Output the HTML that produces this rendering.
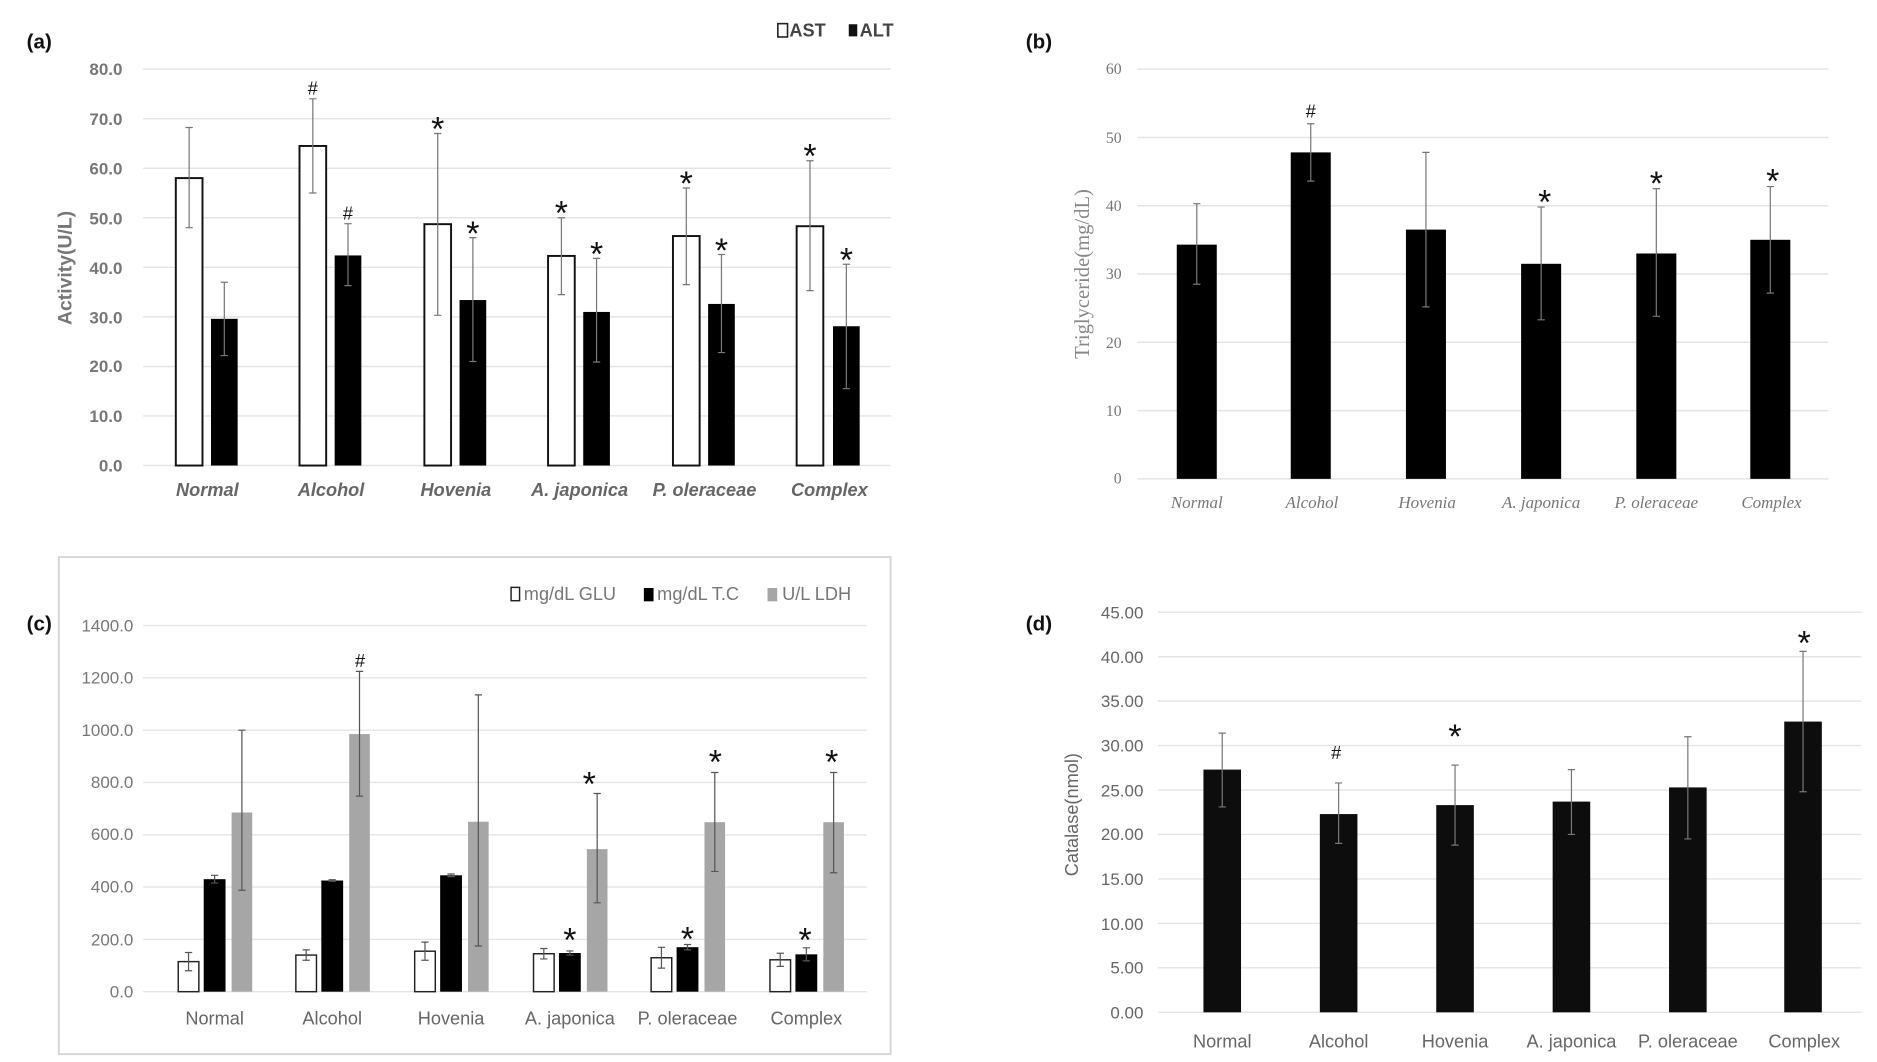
<!DOCTYPE html>
<html><head><meta charset="utf-8"><style>
html,body{margin:0;padding:0;background:#fff;}
svg{display:block}
</style></head><body>
<svg width="1877" height="1062" viewBox="0 0 1548 876" preserveAspectRatio="none" xmlns="http://www.w3.org/2000/svg">
<rect width="1548" height="876" fill="#fff"/>

<!-- ===== (a) ===== -->
<text x="22" y="40" font-family="Liberation Sans, sans-serif" font-weight="bold" font-size="17" fill="#111">(a)</text>
<g stroke="#e4e4e4" stroke-width="1.2">
<line x1="118" x2="735" y1="57" y2="57"/><line x1="118" x2="735" y1="97.9" y2="97.9"/><line x1="118" x2="735" y1="138.8" y2="138.8"/><line x1="118" x2="735" y1="179.6" y2="179.6"/><line x1="118" x2="735" y1="220.5" y2="220.5"/><line x1="118" x2="735" y1="261.4" y2="261.4"/><line x1="118" x2="735" y1="302.3" y2="302.3"/><line x1="118" x2="735" y1="343.1" y2="343.1"/><line x1="118" x2="735" y1="384" y2="384"/>
</g>
<g font-family="Liberation Sans Narrow, Liberation Sans, sans-serif" font-weight="bold" font-size="14" fill="#777" text-anchor="end">
<text x="101" y="62">80.0</text><text x="101" y="103">70.0</text><text x="101" y="144">60.0</text><text x="101" y="185">50.0</text><text x="101" y="226">40.0</text><text x="101" y="267">30.0</text><text x="101" y="307">20.0</text><text x="101" y="348">10.0</text><text x="101" y="389">0.0</text>
</g>
<text transform="translate(59,221) rotate(-90)" font-family="Liberation Sans, sans-serif" font-weight="bold" font-size="16" fill="#777" text-anchor="middle">Activity(U/L)</text>
<g fill="#fff" stroke="#111" stroke-width="1.6">
<rect x="145" y="146.9" width="22" height="237.1"/><rect x="247" y="120.4" width="22" height="263.6"/><rect x="350" y="184.9" width="22" height="199.1"/><rect x="452" y="211.1" width="22" height="172.9"/><rect x="555" y="194.7" width="22" height="189.3"/><rect x="657" y="186.6" width="22" height="197.4"/>
</g>
<g fill="#000">
<rect x="174" y="263" width="22" height="121"/><rect x="276" y="210.7" width="22" height="173.3"/><rect x="379" y="247.5" width="22" height="136.5"/><rect x="481" y="257.3" width="22" height="126.7"/><rect x="584" y="250.7" width="22" height="133.3"/><rect x="687" y="269.1" width="22" height="114.9"/>
</g>
<g stroke="#777" stroke-width="1" fill="none">
<path d="M156 105.2V187.8M153 105.2h6M153 187.8h6"/>
<path d="M258 81.5V159.2M255 81.5h6M255 159.2h6"/>
<path d="M361 110.1V260.1M358 110.1h6M358 260.1h6"/>
<path d="M463 179.6V243M460 179.6h6M460 243h6"/>
<path d="M566 155.1V234.8M563 155.1h6M563 234.8h6"/>
<path d="M668 132.6V239.7M665 132.6h6M665 239.7h6"/>
<path d="M185 232.8V293.3M182 232.8h6M182 293.3h6"/>
<path d="M287 184.5V235.6M284 184.5h6M284 235.6h6"/>
<path d="M390 196V298.2M387 196h6M387 298.2h6"/>
<path d="M492 213.1V298.6M489 213.1h6M489 298.6h6"/>
<path d="M595 209.9V290.8M592 209.9h6M592 290.8h6"/>
<path d="M698 218V320.6M695 218h6M695 320.6h6"/>
</g>
<g font-family="Liberation Sans, sans-serif" font-size="28" fill="#111" text-anchor="middle">
<text x="258" y="78" font-size="15">#</text><text x="287" y="181" font-size="15">#</text>
<text x="361" y="116">*</text><text x="390" y="202">*</text>
<text x="463" y="185">*</text><text x="492" y="219">*</text>
<text x="566" y="161">*</text><text x="595" y="216">*</text>
<text x="668" y="138">*</text><text x="698" y="224">*</text>
</g>
<g font-family="Liberation Sans, sans-serif" font-weight="bold" font-style="italic" font-size="15" fill="#666" text-anchor="middle">
<text x="171" y="409">Normal</text><text x="273" y="409">Alcohol</text><text x="376" y="409">Hovenia</text><text x="478" y="409">A. japonica</text><text x="581" y="409">P. oleraceae</text><text x="684" y="409">Complex</text>
</g>
<rect x="641.5" y="19.5" width="8" height="11" fill="#fff" stroke="#222" stroke-width="1.3"/>
<rect x="700" y="20" width="7" height="10" fill="#111"/>
<g font-family="Liberation Sans, sans-serif" font-weight="bold" font-size="15" fill="#444">
<text x="651" y="30">AST</text><text x="709" y="30">ALT</text>
</g>

<!-- ===== (b) ===== -->
<text x="846" y="40" font-family="Liberation Sans, sans-serif" font-weight="bold" font-size="17" fill="#111">(b)</text>
<g stroke="#e4e4e4" stroke-width="1.2">
<line x1="938" x2="1508" y1="57" y2="57"/><line x1="938" x2="1508" y1="113.4" y2="113.4"/><line x1="938" x2="1508" y1="169.7" y2="169.7"/><line x1="938" x2="1508" y1="226" y2="226"/><line x1="938" x2="1508" y1="282.3" y2="282.3"/><line x1="938" x2="1508" y1="338.7" y2="338.7"/><line x1="938" x2="1508" y1="395" y2="395"/>
</g>
<g font-family="Liberation Serif, serif" font-size="13" fill="#777" text-anchor="end">
<text x="925" y="61">60</text><text x="925" y="118">50</text><text x="925" y="174">40</text><text x="925" y="230">30</text><text x="925" y="287">20</text><text x="925" y="343">10</text><text x="925" y="399">0</text>
</g>
<text transform="translate(898,226) rotate(-90)" font-family="Liberation Serif, serif" font-size="17" fill="#888" text-anchor="middle">Triglyceride(mg/dL)</text>
<g fill="#000">
<rect x="970.5" y="201.8" width="33" height="193.2"/><rect x="1064.5" y="125.7" width="33" height="269.3"/><rect x="1159.5" y="189.4" width="33" height="205.6"/><rect x="1254.5" y="217.6" width="33" height="177.4"/><rect x="1349.5" y="209.1" width="33" height="185.9"/><rect x="1443.5" y="197.8" width="33" height="197.2"/>
</g>
<g stroke="#777" stroke-width="1" fill="none">
<path d="M987 168V234.5M984 168h6M984 234.5h6"/>
<path d="M1081 102.1V149.4M1078 102.1h6M1078 149.4h6"/>
<path d="M1176 125.7V253.1M1173 125.7h6M1173 253.1h6"/>
<path d="M1271 170.8V263.8M1268 170.8h6M1268 263.8h6"/>
<path d="M1366 155.6V260.9M1363 155.6h6M1363 260.9h6"/>
<path d="M1460 153.9V241.8M1457 153.9h6M1457 241.8h6"/>
</g>
<g font-family="Liberation Sans, sans-serif" font-size="28" fill="#111" text-anchor="middle">
<text x="1081" y="97" font-size="15">#</text>
<text x="1274" y="176">*</text><text x="1366" y="161">*</text><text x="1462" y="159">*</text>
</g>
<g font-family="Liberation Serif, serif" font-style="italic" font-size="14" fill="#777" text-anchor="middle">
<text x="987" y="419">Normal</text><text x="1082" y="419">Alcohol</text><text x="1177" y="419">Hovenia</text><text x="1271" y="419">A. japonica</text><text x="1366" y="419">P. oleraceae</text><text x="1461" y="419">Complex</text>
</g>

<!-- ===== (c) ===== -->
<rect x="48.5" y="459.5" width="686" height="410" fill="none" stroke="#d4d4d4" stroke-width="1.5"/>
<text x="22" y="520" font-family="Liberation Sans, sans-serif" font-weight="bold" font-size="17" fill="#111">(c)</text>
<g stroke="#e4e4e4" stroke-width="1.2">
<line x1="118" x2="715" y1="516" y2="516"/><line x1="118" x2="715" y1="559.1" y2="559.1"/><line x1="118" x2="715" y1="602.3" y2="602.3"/><line x1="118" x2="715" y1="645.4" y2="645.4"/><line x1="118" x2="715" y1="688.6" y2="688.6"/><line x1="118" x2="715" y1="731.7" y2="731.7"/><line x1="118" x2="715" y1="774.9" y2="774.9"/><line x1="118" x2="715" y1="818" y2="818"/>
</g>
<g font-family="Liberation Sans Narrow, Liberation Sans, sans-serif" font-size="14" fill="#777" text-anchor="end">
<text x="110" y="521">1400.0</text><text x="110" y="564">1200.0</text><text x="110" y="607">1000.0</text><text x="110" y="650">800.0</text><text x="110" y="693">600.0</text><text x="110" y="736">400.0</text><text x="110" y="780">200.0</text><text x="110" y="823">0.0</text>
</g>
<g fill="#fff" stroke="#222" stroke-width="1.2">
<rect x="147" y="793.2" width="17" height="24.8"/><rect x="244" y="787.8" width="17" height="30.2"/><rect x="342" y="784.6" width="17" height="33.4"/><rect x="440" y="786.7" width="17" height="31.3"/><rect x="537" y="790" width="17" height="28"/><rect x="635" y="791.7" width="17" height="26.3"/>
</g>
<g fill="#000">
<rect x="168" y="725.2" width="18" height="92.8"/><rect x="265" y="726.3" width="18" height="91.7"/><rect x="363" y="722" width="18" height="96"/><rect x="461" y="786.1" width="18" height="31.9"/><rect x="558" y="781.3" width="18" height="36.7"/><rect x="656" y="787.2" width="18" height="30.8"/>
</g>
<g fill="#a6a6a6">
<rect x="191" y="670.2" width="17" height="147.8"/><rect x="288" y="605.5" width="17" height="212.5"/><rect x="386" y="677.8" width="17" height="140.2"/><rect x="484" y="700.4" width="17" height="117.6"/><rect x="581" y="678.2" width="17" height="139.8"/><rect x="679" y="678.2" width="17" height="139.8"/>
</g>
<g stroke="#555" stroke-width="1" fill="none">
<path d="M155.5 785.7V800.7M152.5 785.7h6M152.5 800.7h6"/>
<path d="M252.5 783.5V792.1M249.5 783.5h6M249.5 792.1h6"/>
<path d="M350.5 777.1V792.1M347.5 777.1h6M347.5 792.1h6"/>
<path d="M448.5 782.4V791M445.5 782.4h6M445.5 791h6"/>
<path d="M545.5 781.4V798.6M542.5 781.4h6M542.5 798.6h6"/>
<path d="M643.5 786.3V797.1M640.5 786.3h6M640.5 797.1h6"/>
<path d="M177 722V728.4M174 722h6M174 728.4h6"/>
<path d="M274 725.7V726.9M271 725.7h6M271 726.9h6"/>
<path d="M372 720.9V723.1M369 720.9h6M369 723.1h6"/>
<path d="M470 784.4V787.8M467 784.4h6M467 787.8h6"/>
<path d="M567 779.1V783.5M564 779.1h6M564 783.5h6"/>
<path d="M665 781.8V792.6M662 781.8h6M662 792.6h6"/>
<path d="M199.5 602.3V734.3M196.5 602.3h6M196.5 734.3h6"/>
<path d="M296.5 553.8V656.7M293.5 553.8h6M293.5 656.7h6"/>
<path d="M394.5 573.2V780.3M391.5 573.2h6M391.5 780.3h6"/>
<path d="M492.5 654.5V744.7M489.5 654.5h6M489.5 744.7h6"/>
<path d="M589.5 637.2V718.8M586.5 637.2h6M586.5 718.8h6"/>
<path d="M687.5 637.2V719.9M684.5 637.2h6M684.5 719.9h6"/>
</g>
<g font-family="Liberation Sans, sans-serif" font-size="28" fill="#111" text-anchor="middle">
<text x="297" y="550" font-size="15">#</text>
<text x="486" y="656">*</text><text x="590" y="638">*</text><text x="686" y="638">*</text>
<text x="470" y="785">*</text><text x="567" y="784">*</text><text x="664" y="785">*</text>
</g>
<g font-family="Liberation Sans Narrow, Liberation Sans, sans-serif" font-size="15" fill="#666" text-anchor="middle">
<text x="177" y="845">Normal</text><text x="274" y="845">Alcohol</text><text x="372" y="845">Hovenia</text><text x="470" y="845">A. japonica</text><text x="567" y="845">P. oleraceae</text><text x="665" y="845">Complex</text>
</g>
<rect x="421.5" y="484.5" width="7" height="11" fill="#fff" stroke="#222" stroke-width="1.2"/>
<rect x="531" y="485" width="8" height="11" fill="#000"/>
<rect x="633" y="485" width="8" height="11" fill="#a6a6a6"/>
<g font-family="Liberation Sans Narrow, Liberation Sans, sans-serif" font-size="15" fill="#777">
<text x="432" y="495">mg/dL GLU</text><text x="542" y="495">mg/dL T.C</text><text x="645" y="495">U/L LDH</text>
</g>

<!-- ===== (d) ===== -->
<text x="846" y="520" font-family="Liberation Sans, sans-serif" font-weight="bold" font-size="17" fill="#111">(d)</text>
<g stroke="#e4e4e4" stroke-width="1.2">
<line x1="955" x2="1535" y1="505" y2="505"/><line x1="955" x2="1535" y1="541.7" y2="541.7"/><line x1="955" x2="1535" y1="578.3" y2="578.3"/><line x1="955" x2="1535" y1="615" y2="615"/><line x1="955" x2="1535" y1="651.7" y2="651.7"/><line x1="955" x2="1535" y1="688.3" y2="688.3"/><line x1="955" x2="1535" y1="725" y2="725"/><line x1="955" x2="1535" y1="761.7" y2="761.7"/><line x1="955" x2="1535" y1="798.3" y2="798.3"/><line x1="955" x2="1535" y1="835" y2="835"/>
</g>
<g font-family="Liberation Sans, sans-serif" font-size="14" fill="#666" text-anchor="end">
<text x="943" y="510">45.00</text><text x="943" y="547">40.00</text><text x="943" y="583">35.00</text><text x="943" y="620">30.00</text><text x="943" y="657">25.00</text><text x="943" y="693">20.00</text><text x="943" y="730">15.00</text><text x="943" y="767">10.00</text><text x="943" y="803">5.00</text><text x="943" y="840">0.00</text>
</g>
<text transform="translate(889,672) rotate(-90)" font-family="Liberation Sans, sans-serif" font-size="15" fill="#666" text-anchor="middle">Catalase(nmol)</text>
<g fill="#0d0d0d">
<rect x="992.5" y="634.8" width="31" height="200.2"/><rect x="1088.5" y="671.5" width="31" height="163.5"/><rect x="1184.5" y="664.1" width="31" height="170.9"/><rect x="1280.5" y="661.2" width="31" height="173.8"/><rect x="1376.5" y="649.5" width="31" height="185.5"/><rect x="1471.5" y="595.2" width="31" height="239.8"/>
</g>
<g stroke="#777" stroke-width="1" fill="none">
<path d="M1008 604.7V665.6M1005 604.7h6M1005 665.6h6"/>
<path d="M1104 645.8V695.7M1101 645.8h6M1101 695.7h6"/>
<path d="M1200 631.1V697.1M1197 631.1h6M1197 697.1h6"/>
<path d="M1296 634.8V688.3M1293 634.8h6M1293 688.3h6"/>
<path d="M1392 607.7V692M1389 607.7h6M1389 692h6"/>
<path d="M1487 537.3V653.1M1484 537.3h6M1484 653.1h6"/>
</g>
<g font-family="Liberation Sans, sans-serif" font-size="28" fill="#111" text-anchor="middle">
<text x="1102" y="626" font-size="15">#</text>
<text x="1200" y="617">*</text><text x="1488" y="540">*</text>
</g>
<g font-family="Liberation Sans, sans-serif" font-size="15" fill="#666" text-anchor="middle">
<text x="1008" y="864">Normal</text><text x="1104" y="864">Alcohol</text><text x="1200" y="864">Hovenia</text><text x="1296" y="864">A. japonica</text><text x="1392" y="864">P. oleraceae</text><text x="1488" y="864">Complex</text>
</g>
</svg>
</body></html>
